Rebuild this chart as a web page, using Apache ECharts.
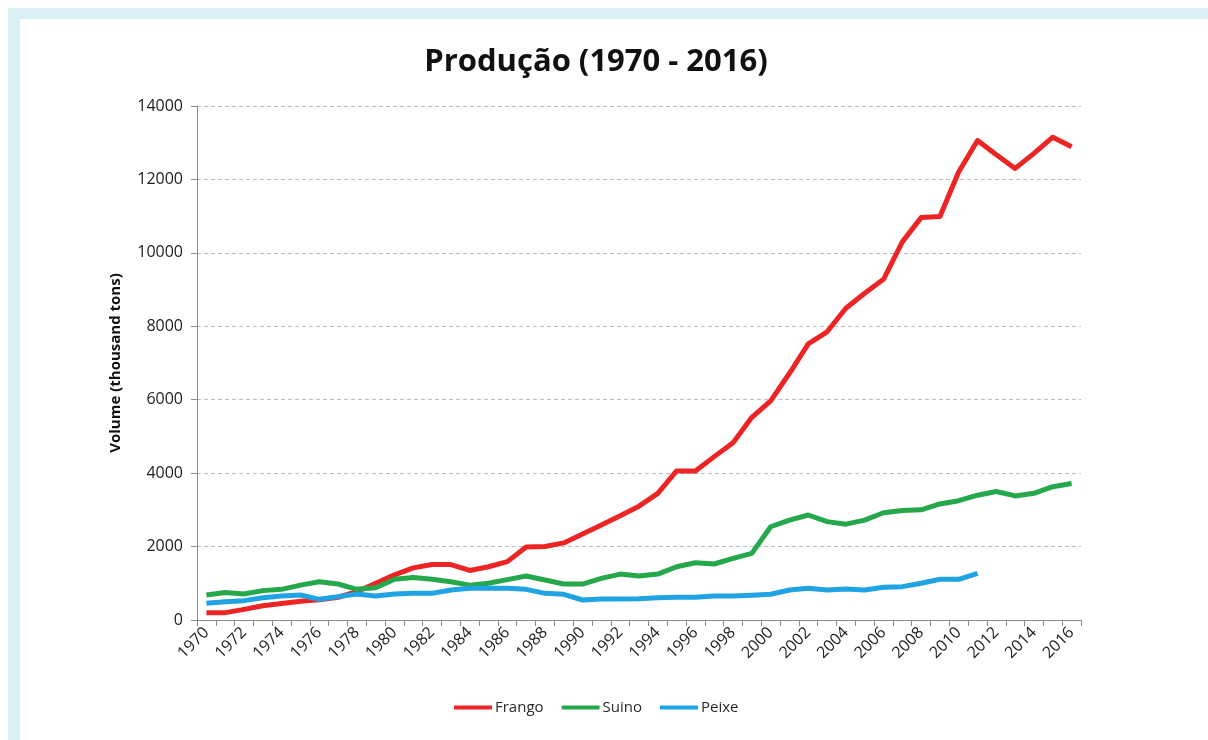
<!DOCTYPE html>
<html>
<head>
<meta charset="utf-8">
<title>Produção (1970 - 2016)</title>
<script src="https://cdn.jsdelivr.net/npm/echarts@6/dist/echarts.min.js"></script>
<style>
  html, body { margin: 0; padding: 0; background: #ffffff; }
  #chart { width: 1208px; height: 740px; }
</style>
</head>
<body>
<div id="chart"></div>
<script>
// Years 1970..2016
const years = [
  '1970','1971','1972','1973','1974','1975','1976','1977','1978','1979',
  '1980','1981','1982','1983','1984','1985','1986','1987','1988','1989',
  '1990','1991','1992','1993','1994','1995','1996','1997','1998','1999',
  '2000','2001','2002','2003','2004','2005','2006','2007','2008','2009',
  '2010','2011','2012','2013','2014','2015','2016'
];

// Production volumes, thousand tons
const frango = [
  200, 200, 290, 390, 450, 510, 550, 620, 770, 1000,
  1230, 1420, 1510, 1510, 1350, 1450, 1590, 1990, 2000, 2100,
  2340, 2590, 2840, 3100, 3450, 4060, 4060, 4450, 4830, 5520,
  5970, 6720, 7520, 7850, 8490, 8900, 9280, 10300, 10960, 10990,
  12210, 13060, 12670, 12300, 12710, 13150, 12890
];
const suino = [
  680, 750, 710, 800, 835, 950, 1040, 980, 835, 880,
  1110, 1160, 1110, 1040, 950, 1000, 1100, 1200, 1090, 980,
  980, 1135, 1250, 1200, 1250, 1450, 1560, 1525, 1680, 1816,
  2540, 2720, 2860, 2680, 2610, 2720, 2920, 2980, 3000, 3160,
  3250, 3400, 3500, 3380, 3450, 3630, 3720
];
const peixe = [
  455, 500, 527, 608, 654, 680, 563, 636, 708, 654,
  708, 726, 726, 817, 863, 863, 863, 835, 726, 700,
  545, 572, 572, 581, 608, 617, 617, 654, 654, 672,
  700, 817, 863, 817, 845, 817, 890, 908, 1000, 1108,
  1108, 1271
];

const yTicks = { min: 0, max: 14000, interval: 2000 };

const chart = echarts.init(document.getElementById('chart'), null, { renderer: 'canvas' });

const labelFont = '"Open Sans", "Liberation Sans", sans-serif';

chart.setOption({
  backgroundColor: '#ffffff',
  animation: false,
  graphic: [
    // light frame band along the top and left
    { type: 'rect', shape: { x: 8, y: 8, width: 1200, height: 11 }, style: { fill: '#daf0f5' }, silent: true },
    { type: 'rect', shape: { x: 8, y: 8, width: 12, height: 732 }, style: { fill: '#daf0f5' }, silent: true }
  ],
  title: {
    text: 'Produção (1970 - 2016)',
    left: 591,
    textAlign: 'center',
    top: 42,
    textStyle: {
      fontFamily: labelFont,
      fontWeight: 'bold',
      fontSize: 31,
      color: '#111111'
    }
  },
  legend: {
    bottom: 20,
    left: 449,
    itemWidth: 38,
    itemHeight: 10,
    itemGap: 18,
    icon: 'path://M0,3 L38,3 L38,7 L0,7 Z',
    textStyle: {
      fontFamily: labelFont,
      fontSize: 15,
      padding: [0, 0, 0, -2],
      color: '#2a2a2a'
    },
    data: ['Frango', 'Suino', 'Peixe']
  },
  grid: {
    left: 197,
    right: 127,
    top: 106,
    bottom: 120,
    containLabel: false
  },
  xAxis: {
    type: 'category',
    data: years,
    boundaryGap: true,
    axisLine: { lineStyle: { color: '#8f8a8a', width: 1 } },
    axisTick: { show: true, interval: 0, length: 6, lineStyle: { color: '#8f8a8a' } },
    axisLabel: {
      interval: 1,
      rotate: 45,
      margin: 10,
      fontFamily: labelFont,
      fontSize: 16,
      color: '#222222'
    },
    splitLine: { show: false }
  },
  yAxis: {
    type: 'value',
    min: yTicks.min,
    max: yTicks.max,
    interval: yTicks.interval,
    name: 'Volume (thousand tons)',
    nameLocation: 'middle',
    nameGap: 74,
    nameTextStyle: {
      fontFamily: labelFont,
      fontWeight: 'bold',
      fontSize: 15,
      color: '#111111'
    },
    axisLine: { show: true, lineStyle: { color: '#8f8a8a', width: 1 } },
    axisTick: { show: true, length: 6, lineStyle: { color: '#8f8a8a' } },
    axisLabel: {
      margin: 14,
      fontFamily: labelFont,
      fontSize: 16,
      color: '#222222',
      formatter: (v) => String(v)
    },
    splitLine: {
      show: true,
      lineStyle: { color: '#bdbdbd', type: [4, 3], width: 1 }
    }
  },
  series: [
    {
      name: 'Frango',
      type: 'line',
      data: frango,
      symbol: 'none',
      color: '#ec2424',
      lineStyle: { width: 5, color: '#ec2424', join: 'round' }
    },
    {
      name: 'Suino',
      type: 'line',
      data: suino,
      symbol: 'none',
      color: '#25a74b',
      lineStyle: { width: 5, color: '#25a74b', join: 'round' }
    },
    {
      name: 'Peixe',
      type: 'line',
      data: peixe,
      symbol: 'none',
      color: '#1fa3e3',
      lineStyle: { width: 5, color: '#1fa3e3', join: 'round' }
    }
  ]
});
</script>
</body>
</html>
